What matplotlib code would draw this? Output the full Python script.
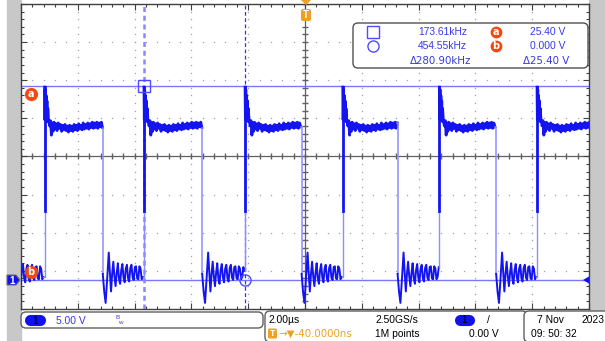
import numpy as np
import matplotlib
matplotlib.use("Agg")
import matplotlib.pyplot as plt
from matplotlib.patches import FancyBboxPatch, Rectangle, Polygon

# ---- data (time in us, volts) ----
rise_times = [-9.17, -5.67, -2.11, 1.33, 4.73, 8.17]
fall_times = [-10.62, -7.12, -3.62, -0.12, 3.26, 6.73, 10.20]

# high phase shape, offsets from the rising edge
hi_dt = [0.000, 0.012, 0.025, 0.040, 0.055, 0.070, 0.085, 0.100, 0.115,
         0.14, 0.18, 0.21, 0.24, 0.27, 0.30, 0.33, 0.36, 0.40, 0.44, 0.48,
         0.52, 0.56, 0.60, 0.64, 0.68, 0.72, 0.76, 0.80, 0.84, 0.88, 0.92,
         0.96, 1.00, 1.04, 1.08, 1.12, 1.16, 1.20, 1.24, 1.28, 1.32, 1.36,
         1.40, 1.44, 1.48, 1.52, 1.56, 1.60, 1.64, 1.68, 1.72, 1.76, 1.80,
         1.84, 1.88, 1.92, 1.96, 2.00, 2.04, 2.08, 2.12, 2.16]
hi_v = [25.3, 21.0, 25.0, 21.5, 24.2, 21.2, 23.5, 20.8, 22.5,
        21.0, 20.2, 20.9, 19.0, 20.6, 19.5, 20.7, 19.8, 20.5, 19.6, 20.6,
        19.9, 20.4, 19.5, 20.3, 19.7, 20.4, 19.6, 20.2, 19.4, 20.3, 19.6,
        20.2, 19.5, 20.4, 19.7, 20.3, 19.6, 20.5, 19.8, 20.3, 19.7, 20.6,
        19.8, 20.4, 19.9, 20.6, 19.8, 20.5, 20.0, 20.7, 19.9, 20.6, 20.0,
        20.7, 19.9, 20.6, 20.1, 20.7, 20.0, 20.6, 20.1, 20.6]

# low phase ringing, offsets from the falling edge
lo_dt = [0.00, 0.05, 0.10, 0.16, 0.21, 0.25, 0.29, 0.33, 0.37, 0.41, 0.45,
         0.49, 0.53, 0.57, 0.61, 0.65, 0.69, 0.73, 0.77, 0.81, 0.85, 0.89,
         0.93, 0.97, 1.01, 1.05, 1.09, 1.13, 1.17, 1.21, 1.25, 1.29, 1.33,
         1.37, 1.41, 1.45, 1.49, 1.53]
lo_v = [0.8, -1.5, -3.0, 0.5, 3.6, 1.0, -1.5, 0.8, 2.4, 0.5, -0.8,
        0.9, 2.2, 0.2, -0.5, 1.3, 2.1, 0.3, -0.3, 1.5, 2.0, 0.2,
        -0.2, 1.6, 2.0, 0.3, 0.0, 1.7, 1.8, 0.2, 0.1, 1.8, 1.5,
        0.1, 0.4, 1.7, 1.2, 0.3]

cursor_a, cursor_b = 25.40, 0.0
cursor_t1, cursor_t2 = -5.67, -2.11
readout = [("173.61kHz", "25.40 V"), ("454.55kHz", "0.000 V"),
           ("\u0394280.90kHz", "\u039425.40 V")]

# ---- layout ----
W, H = 605, 341
ground_div = -3.24           # channel 1 offset, divisions
vdiv, tdiv = 5.0, 2.0
BLUE = "#1414f0"
LIGHT = "#8c8cff"
GRID = "#a0a0a0"
ORANGE = "#f0a020"
RED = "#f04a10"
FONT = "Liberation Sans"

fig = plt.figure(figsize=(W / 100, H / 100), dpi=100)
fig.patch.set_facecolor("white")

bg = fig.add_axes([0, 0, 1, 1], zorder=0)
bg.set_xlim(0, W)
bg.set_ylim(H, 0)
bg.axis("off")
bg.add_patch(Rectangle((7, 0), 14, H, color="#c8c8c8"))
bg.add_patch(Rectangle((589, 0), 16, 311, color="#c8c8c8"))

ax = fig.add_axes([21 / W, 1 - 309 / H, 568 / W, 305 / H], zorder=1)
ylo = (-4 - ground_div) * vdiv
yhi = (4 - ground_div) * vdiv
ax.set_xlim(-5 * tdiv, 5 * tdiv)
ax.set_ylim(ylo, yhi)
ax.set_facecolor("white")
for s in ax.spines.values():
    s.set_color("#404040")
    s.set_linewidth(1.0)

xmaj = np.arange(-5, 6) * tdiv
ymaj = ylo + np.arange(0, 9) * vdiv
xmin_ = np.arange(-10, 10.01, tdiv / 5)
ymin_ = ylo + np.arange(0, 41) * vdiv / 5
ax.set_xticks(xmaj)
ax.set_yticks(ymaj)
ax.set_xticks(xmin_, minor=True)
ax.set_yticks(ymin_, minor=True)
ax.tick_params(which="both", direction="in", top=True, right=True,
               labelbottom=False, labelleft=False, color="#404040")
ax.tick_params(which="major", length=4, width=0.8)
ax.tick_params(which="minor", length=2.5, width=0.8)

ycen = ylo + 4 * vdiv
for x in xmaj[1:-1]:
    if abs(x) > 1e-9:
        ax.plot(np.full_like(ymin_, x), ymin_, ls="none", marker="s",
                ms=0.9, color=GRID, mew=0, zorder=1)
for y in ymaj[1:-1]:
    if abs(y - ycen) > 1e-9:
        ax.plot(xmin_, np.full_like(xmin_, y), ls="none", marker="s",
                ms=0.9, color=GRID, mew=0, zorder=1)
ax.axhline(ycen, color="#606060", lw=0.9, zorder=1)
ax.axvline(0, color="#606060", lw=0.9, zorder=1)
ax.plot(xmin_, np.full_like(xmin_, ycen), ls="none", marker="|", ms=4,
        color="#606060", zorder=1)
ax.plot(np.zeros_like(ymin_), ymin_, ls="none", marker="_", ms=4,
        color="#606060", zorder=1)

# cursors
ax.axhline(cursor_a, color="#7878ff", lw=1.0, zorder=2)
ax.axhline(cursor_b, color="#7878ff", lw=1.0, zorder=2)
ax.axvline(cursor_t1, color="#8888ff", lw=1.8, dashes=(2, 1.5), zorder=2)
ax.axvline(cursor_t2, color="#3030ff", lw=0.9, dashes=(3, 2), zorder=2)

# trace
hi_dt_a, hi_v_a = np.array(hi_dt), np.array(hi_v)
lo_dt_a, lo_v_a = np.array(lo_dt), np.array(lo_v)
for i, tf in enumerate(fall_times):
    nxt = rise_times[i] if i < len(rise_times) else 99
    m = tf + lo_dt_a < nxt
    lt, lv = tf + lo_dt_a[m], lo_v_a[m]
    ax.plot(lt, lv, color=BLUE, lw=1.4, zorder=3)
    if i < len(rise_times):
        tr = rise_times[i]
        ax.plot([lt[-1], tr, tr], [lv[-1], lv[-1], 9.0], color=LIGHT,
                lw=1.0, zorder=3)
        ax.plot([tr, tr], [9.0, hi_v[0]], color=BLUE, lw=2.0, zorder=3)
        tf2 = fall_times[i + 1]
        mh = tr + hi_dt_a < tf2
        ht, hv = tr + hi_dt_a[mh], hi_v_a[mh]
        ax.plot(ht, hv, color=BLUE, lw=2.0, zorder=3)
        ax.plot([ht[-1], tf2, tf2], [hv[-1], hv[-1], lo_v[0]], color=LIGHT,
                lw=1.1, zorder=3)

ax.plot([cursor_t1], [cursor_a], marker="s", ms=8, mfc="none",
        mec="#4c4cff", mew=1.0, zorder=4)
ax.plot([cursor_t2], [cursor_b], marker="o", ms=8, mfc="none",
        mec="#4c4cff", mew=1.0, zorder=4)

# overlay in pixel coords
ov = fig.add_axes([0, 0, 1, 1], zorder=2)
ov.set_xlim(0, W)
ov.set_ylim(H, 0)
ov.axis("off")
ov.patch.set_alpha(0)


def badge(x, y, letter, size=9.5):
    ov.plot([x], [y], marker="o", ms=size, color=RED, mew=0)
    ov.text(x, y + 0.3, letter, color="white", fontsize=7, fontweight="bold",
            ha="center", va="center", family="DejaVu Sans")


badge(31, 94, "a")
badge(31, 272, "b")

# readout box
ov.add_patch(FancyBboxPatch((353, 23), 235, 45,
                            boxstyle="round,pad=0,rounding_size=5",
                            fc="white", ec="#505050", lw=1.0))
ov.plot([373], [32], marker="s", ms=8, mfc="none", mec="#4c4cff", mew=1.0)
ov.plot([373], [46], marker="o", ms=8, mfc="none", mec="#4c4cff", mew=1.0)
badge(495.7, 32, "a", 8.5)
badge(495.7, 46, "b", 8.5)
for row, (fq, vv) in enumerate(readout):
    y = 32 + row * 14.3
    xr1 = 467 if row < 2 else 471.5
    xr2 = 565 if row < 2 else 569
    ov.text(xr1, y, fq, color="#3838e8", fontsize=7.4, ha="right",
            va="center", family=["DejaVu Sans"] if row == 2 else FONT)
    ov.text(xr2, y, vv, color="#3838e8", fontsize=7.4, ha="right",
            va="center", family=["DejaVu Sans"] if row == 2 else FONT)

# channel / trigger markers
ov.add_patch(Polygon([(7, 275), (16, 275), (20, 280), (16, 285), (7, 285)],
                     closed=True, fc="#1010f0", ec="#707070", lw=0.8))
ov.text(12, 280.5, "1", color="white", fontsize=7, fontweight="bold",
        ha="center", va="center", family=FONT)
ov.add_patch(Polygon([(583, 280), (589, 276.5), (589, 283.5)], closed=True,
                     fc="#1010f0", ec="none"))
ov.add_patch(Polygon([(301, 0), (311, 0), (306, 5)], closed=True,
                     fc=ORANGE, ec="none"))
ov.add_patch(FancyBboxPatch((301, 9), 10, 12,
                            boxstyle="round,pad=0,rounding_size=2",
                            fc=ORANGE, ec="none"))
ov.text(306, 15.5, "T", color="white", fontsize=7, fontweight="bold",
        ha="center", va="center", family=FONT)

# status bar
ov.add_patch(FancyBboxPatch((21, 312), 242, 16,
                            boxstyle="round,pad=0,rounding_size=5",
                            fc="white", ec="#606060", lw=1.0))
ov.add_patch(FancyBboxPatch((265, 311), 262, 31,
                            boxstyle="round,pad=0,rounding_size=5",
                            fc="white", ec="#606060", lw=1.0))
ov.add_patch(FancyBboxPatch((524, 311), 90, 31,
                            boxstyle="round,pad=0,rounding_size=5",
                            fc="white", ec="#606060", lw=1.0))

ov.plot([30, 40], [320, 320], lw=8, color="#1010f0", solid_capstyle="round")
ov.text(35, 320.5, "1", fontsize=7.4, ha="center", va="center", family=FONT)
ov.text(56.5, 320.5, "5.00 V", color="#3838e8", fontsize=7.4, va="center",
        family=FONT)
ov.text(115, 317.5, "B", color="#3838e8", fontsize=4.5, va="center",
        family=FONT)
ov.text(118, 322.5, "w", color="#3838e8", fontsize=4.5, va="center",
        family=FONT)

ov.text(268.5, 320, "2.00\u00b5s", fontsize=7.4, va="center", family=FONT)
ov.add_patch(FancyBboxPatch((268, 328.5), 9, 10,
                            boxstyle="round,pad=0,rounding_size=1.5",
                            fc=ORANGE, ec="none"))
ov.text(272.5, 333.8, "T", color="white", fontsize=6.5, fontweight="bold",
        ha="center", va="center", family=FONT)
ov.text(278, 334, "\u2192\u25bc-40.0000ns", color=ORANGE, fontsize=7.4,
        va="center", family=["DejaVu Sans"])
ov.text(375, 320, "2.50GS/s", fontsize=7.4, va="center", family=FONT)
ov.text(375, 334, "1M points", fontsize=7.4, va="center", family=FONT)
ov.plot([460, 469], [319.5, 319.5], lw=8, color="#1010f0",
        solid_capstyle="round")
ov.text(464.5, 320, "1", fontsize=7.4, ha="center", va="center", family=FONT)
ov.text(488, 320, "/", fontsize=7.4, ha="center", va="center", family=FONT)
ov.text(499, 334, "0.00 V", fontsize=7.4, ha="right", va="center",
        family=FONT)
ov.text(537, 320, "7 Nov", fontsize=7.4, va="center", family=FONT)
ov.text(581.5, 320, "2023", fontsize=7.4, va="center", family=FONT)
ov.text(531, 334, "09: 50: 32", fontsize=7.4, va="center", family=FONT)

fig.savefig("out.png", dpi=100)
